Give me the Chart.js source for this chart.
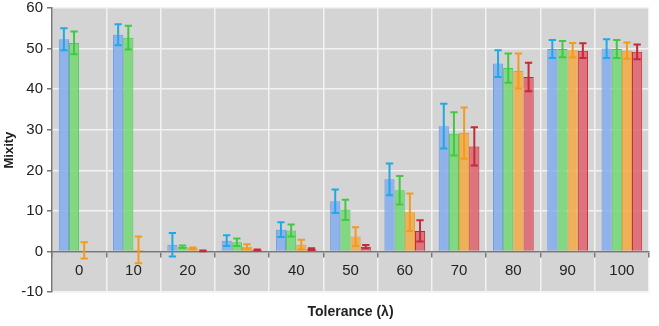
<!DOCTYPE html>
<html>
<head>
<meta charset="utf-8">
<script src="https://cdn.jsdelivr.net/npm/chart.js@4/dist/chart.umd.min.js"></script>
<style>
	body { margin: 0; background: #fff; }
</style>
</head>
<body>
<canvas id="bargraph" width="659" height="326"></canvas>
<script>
// tolerance values (x axis)
var tolerance = ['0', '10', '20', '30', '40', '50', '60', '70', '80', '90', '100'];

// mixity per series
var blueMix   = [52.3, 53.4, 1.7, 2.7, 5.4, 12.4, 17.8, 30.9, 46.3, 49.9, 50.0];
var greenMix  = [51.4, 52.7, 1.2, 2.3, 5.2, 10.3, 15.1, 29.0, 45.2, 49.9, 49.9];
var orangeMix = [0.3, 0.4, 0.8, 1.2, 1.7, 3.7, 9.7, 29.2, 44.5, 49.6, 49.5];
var redMix    = [0, 0, 0.2, 0.4, 0.6, 1.2, 5.1, 25.9, 43.0, 49.5, 49.2];

// error bar half-lengths
var blueErr   = [2.7, 2.6, 2.9, 1.3, 1.8, 2.9, 3.9, 5.5, 3.3, 2.2, 2.3];
var greenErr  = [2.8, 2.9, 0.3, 0.9, 1.5, 2.5, 3.5, 5.3, 3.6, 2.0, 2.2];
var orangeErr = [2.0, 3.3, 0.2, 0.6, 1.2, 2.3, 4.6, 6.3, 4.3, 1.8, 2.0];
var redErr    = [0, 0, 0.1, 0.1, 0.2, 0.4, 2.6, 4.7, 3.5, 1.8, 1.8];

var yTicks = { min: -10, max: 60, step: 10 };

// grey plot background
var plotBg = {
	id: 'plotBg',
	beforeDraw: function(chart) {
		var a = chart.chartArea, ctx = chart.ctx;
		ctx.save();
		ctx.fillStyle = '#d4d4d4';
		ctx.fillRect(a.left, a.top, a.right - a.left, a.bottom - a.top);
		ctx.restore();
	}
};

// error bars drawn on top of each bar
var errorBars = {
	id: 'errorBars',
	afterDatasetsDraw: function(chart) {
		var ctx = chart.ctx, y = chart.scales.y;
		chart.data.datasets.forEach(function(ds, i) {
			var meta = chart.getDatasetMeta(i);
			meta.data.forEach(function(bar, j) {
				var e = ds.errors[j];
				if (!e) return;
				var v = ds.data[j];
				var top = y.getPixelForValue(v + e);
				var bot = y.getPixelForValue(v - e);
				var half = bar.width * 0.36;
				ctx.save();
				ctx.strokeStyle = ds.errorColor;
				ctx.lineWidth = 2;
				ctx.beginPath();
				ctx.moveTo(bar.x, top); ctx.lineTo(bar.x, bot);
				ctx.moveTo(bar.x - half, top); ctx.lineTo(bar.x + half, top);
				ctx.moveTo(bar.x - half, bot); ctx.lineTo(bar.x + half, bot);
				ctx.stroke();
				ctx.restore();
			});
		});
	}
};

var chartdata = {
	labels: tolerance,
	datasets: [
		{
			data: blueMix, errors: blueErr, errorColor: '#1eaae6',
			backgroundColor: 'rgba(130, 172, 238, 0.85)',
			borderColor: 'rgba(105, 155, 232, 1)'
		},
		{
			data: greenMix, errors: greenErr, errorColor: '#44c844',
			backgroundColor: 'rgba(115, 215, 115, 0.85)',
			borderColor: 'rgba(80, 200, 80, 1)'
		},
		{
			data: orangeMix, errors: orangeErr, errorColor: '#f39b1e',
			backgroundColor: 'rgba(242, 172, 75, 0.9)',
			borderColor: 'rgba(240, 155, 40, 1)'
		},
		{
			data: redMix, errors: redErr, errorColor: '#c42a3a',
			backgroundColor: 'rgba(222, 104, 114, 0.9)',
			borderColor: 'rgba(205, 30, 45, 1)'
		}
	]
};
chartdata.datasets.forEach(function(ds) {
	ds.borderWidth = 1;
	ds.categoryPercentage = 0.75;
	ds.barPercentage = 1.0;
});

var ctx = document.getElementById('bargraph');

var barGraph = new Chart(ctx, {
	type: 'bar',
	data: chartdata,
	plugins: [plotBg, errorBars],
	options: {
		responsive: false,
		animation: false,
		layout: { padding: { top: 0, right: 10, left: 0, bottom: 0 } },
		plugins: {
			legend: { display: false },
			tooltip: { enabled: false }
		},
		scales: {
			x: {
				position: 'bottom',
				grid: { offset: true, color: '#f2f2f2', lineWidth: 1.5, drawTicks: false },
				border: { display: false },
				ticks: { display: false },
				title: {
					display: true, text: 'Tolerance (λ)', color: '#222',
					font: { family: 'Liberation Sans', size: 14, weight: 'bold' },
					padding: { top: 12, bottom: 5 }
				}
			},
			x2: {
				type: 'category',
				labels: tolerance,
				position: { y: 0 },
				offset: true,
				grid: { offset: true, drawOnChartArea: false, tickLength: 5, tickColor: '#777', lineWidth: 1.5 },
				border: { color: '#777', width: 1.5 },
				ticks: { color: '#222', padding: 5, font: { family: 'Liberation Sans', size: 15 } }
			},
			y: {
				min: yTicks.min,
				max: yTicks.max,
				afterFit: function(s) {
					s.width = 52;
					s.paddingTop = 8;
					s.paddingBottom = 0;
				},
				ticks: { stepSize: yTicks.step, color: '#222', padding: 4, font: { family: 'Liberation Sans', size: 15 } },
				grid: { color: '#f2f2f2', lineWidth: 1.5, tickLength: 5, tickColor: '#777' },
				border: { color: '#777', width: 1.5 },
				title: {
					display: true, text: 'Mixity', color: '#222',
					font: { family: 'Liberation Sans', size: 13, weight: 'bold' },
					padding: { top: 2, bottom: 2 }
				}
			}
		}
	}
});
</script>
</body>
</html>
